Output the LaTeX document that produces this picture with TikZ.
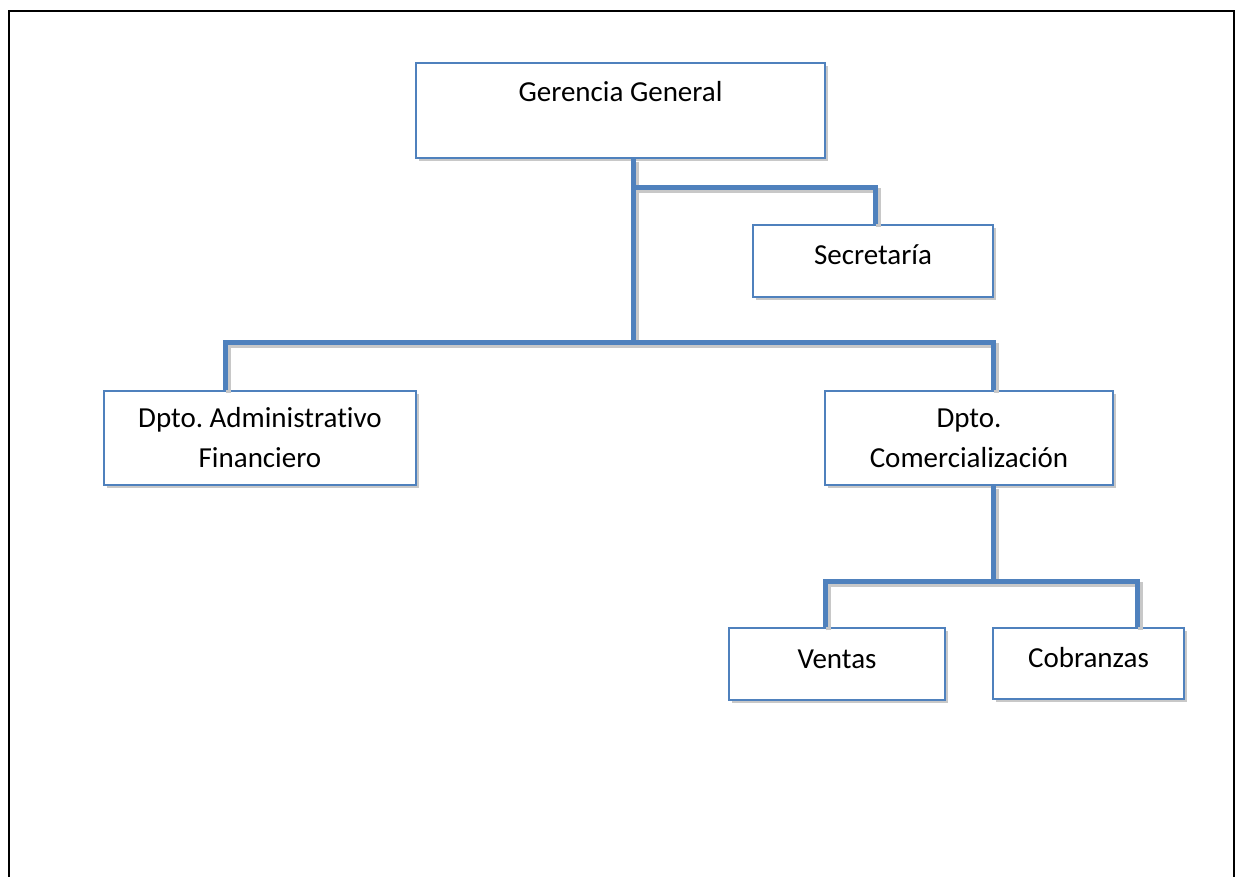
\documentclass[tikz,border=0pt]{standalone}
\usepackage{fontspec}
\setmainfont{Carlito}[Ligatures=NoCommon]
\frenchspacing
\usetikzlibrary{shadows}
\definecolor{obl}{HTML}{4F81BD}
\definecolor{shd}{HTML}{C8C8C8}
\begin{document}
\begin{tikzpicture}[x=1pt,y=-1pt,
  box/.style={draw=obl, line width=1.5pt, fill=white, inner sep=0pt, align=center,
    font=\fontsize{29}{40}\selectfont,
    general shadow={fill=shd, shadow xshift=3pt, shadow yshift=-3pt}},
  oneline/.style={text height=17pt, text depth=9pt},
  conn/.style={draw=obl, line width=5pt},
  connshadow/.style={draw=shd, line width=5pt, transform canvas={xshift=3pt,yshift=-3pt}}]
\useasboundingbox (0,0) rectangle (1235,877);
\draw[line width=2pt] (9,877) -- (9,11) -- (1234,11) -- (1234,877);

\node[box, minimum width=409pt, minimum height=95pt,
  label={[anchor=base, yshift=-39pt, font=\fontsize{29}{40}\selectfont]north:Gerencia General}]
  (gg) at (620.5,110.5) {};
\node[box, oneline, minimum width=240pt, minimum height=72pt] (sec) at (873,261) {Secretaría};
\node[box, minimum width=312pt, minimum height=94pt] (adm) at (260,438) {Dpto. Administrativo\\Financiero};
\node[box, minimum width=288pt, minimum height=94pt] (com) at (969,438) {Dpto.\\Comercialización};
\node[box, oneline, minimum width=216pt, minimum height=72pt] (ven) at (837,664) {Ventas};
\node[box, oneline, minimum width=191pt, minimum height=71pt] (cob) at (1088.5,663.5) {Cobranzas};

\coordinate (j1) at (633,188);
\coordinate (j2) at (633,343);
\coordinate (xs) at (875,188);
\coordinate (xa) at (225,343);
\coordinate (xc) at (993,343);
\coordinate (j3) at (993,581);
\coordinate (xv) at (825,581);
\coordinate (xb) at (1137,581);

\foreach \st in {connshadow,conn}{
  \path[\st] (gg.south -| j1) -- (j2);
  \path[\st] (j1) -- (xs) -- (xs |- sec.north);
  \path[\st] (xa |- adm.north) -- (xa) -- (xc) -- (xc |- com.north);
  \path[\st] (com.south -| j3) -- (j3);
  \path[\st] (xv |- ven.north) -- (xv) -- (xb) -- (xb |- cob.north);
}
\end{tikzpicture}
\end{document}
